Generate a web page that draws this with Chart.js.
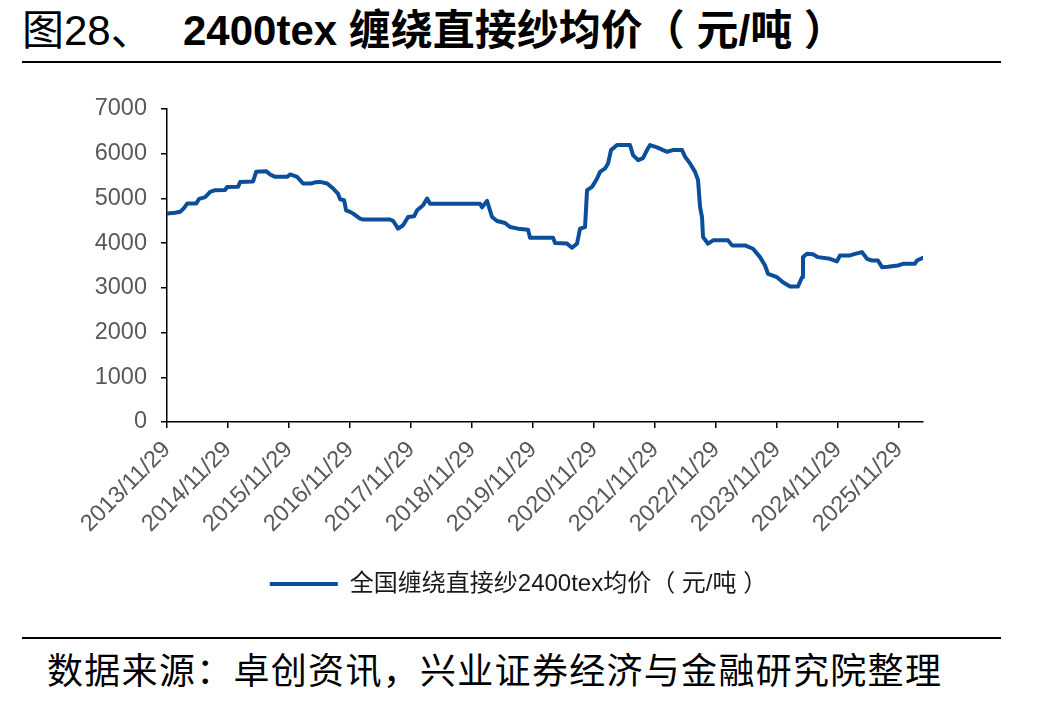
<!DOCTYPE html>
<html>
<head>
<meta charset="utf-8">
<script src="https://cdn.jsdelivr.net/npm/chart.js@4/dist/chart.umd.min.js"></script>
<style>
  html, body { margin: 0; padding: 0; background: #fff; }
  body { width: 1049px; height: 705px; position: relative; overflow: hidden;
         font-family: "Liberation Sans", "Noto Sans CJK SC", sans-serif; color: #000; }
  .title { position: absolute; top: 8px; font-size: 42px; line-height: 46px; white-space: nowrap; }
  .rule { position: absolute; left: 22px; width: 979px; height: 2px; background: #000; }
  #source { position: absolute; left: 47px; top: 652px; font-size: 36px; line-height: 40px;
            letter-spacing: 1.3px; white-space: nowrap; }
  #wrap { position: absolute; left: 0; top: 80px; width: 1049px; height: 526px; }
</style>
</head>
<body>
<div class="title" style="left:22px;">图28、</div>
<div class="title" style="left:183px;font-weight:bold;">2400tex 缠绕直接纱均价（ 元/吨 ）</div>
<div class="rule" style="top:61px;"></div>
<div id="wrap"><canvas id="c" width="1049" height="526"></canvas></div>
<div class="rule" style="top:637px;"></div>
<div id="source">数据来源：卓创资讯，兴业证券经济与金融研究院整理</div>
<script>
// ---- data (time in decimal years, price in 元/吨) ----
const seriesName = '全国缠绕直接纱2400tex均价（ 元/吨 ）';
const timeline = [2013.910, 2014.043, 2014.125, 2014.191, 2014.240, 2014.387, 2014.436, 2014.535, 2014.617, 2014.699,
  2014.862, 2014.895, 2015.075, 2015.108, 2015.321, 2015.370, 2015.534, 2015.600, 2015.682, 2015.878,
  2015.927, 2016.009, 2016.042, 2016.140, 2016.272, 2016.337, 2016.419, 2016.534, 2016.632, 2016.714,
  2016.747, 2016.812, 2016.845, 2016.911, 2016.960, 2017.074, 2017.124, 2017.566, 2017.615, 2017.697,
  2017.779, 2017.861, 2017.959, 2018.008, 2018.107, 2018.172, 2018.221, 2019.041, 2019.073, 2019.155,
  2019.237, 2019.319, 2019.450, 2019.532, 2019.663, 2019.827, 2019.860, 2020.237, 2020.270, 2020.466,
  2020.548, 2020.630, 2020.679, 2020.761, 2020.794, 2020.876, 2020.958, 2021.007, 2021.089, 2021.138,
  2021.187, 2021.285, 2021.498, 2021.548, 2021.630, 2021.711, 2021.777, 2021.826, 2021.941, 2022.105,
  2022.203, 2022.351, 2022.400, 2022.482, 2022.564, 2022.613, 2022.646, 2022.678, 2022.695, 2022.777,
  2022.859, 2023.105, 2023.170, 2023.383, 2023.514, 2023.629, 2023.711, 2023.760, 2023.907, 2024.005,
  2024.120, 2024.251, 2024.317, 2024.333, 2024.399, 2024.497, 2024.579, 2024.776, 2024.890, 2024.939,
  2025.103, 2025.185, 2025.300, 2025.382, 2025.464, 2025.562, 2025.628, 2025.726, 2025.890, 2025.972,
  2026.168, 2026.201, 2026.299];
const prices = [4660, 4680, 4700, 4790, 4885, 4885, 4990, 5030, 5146, 5184,
  5190, 5258, 5260, 5370, 5380, 5594, 5610, 5536, 5483, 5483,
  5536, 5500, 5483, 5334, 5334, 5360, 5370, 5334, 5222, 5100,
  4980, 4960, 4735, 4700, 4660, 4549, 4526, 4526, 4500, 4324,
  4400, 4584, 4600, 4735, 4847, 4997, 4880, 4880, 4800, 4944,
  4584, 4494, 4450, 4360, 4324, 4300, 4122, 4122, 4002, 3990,
  3898, 3990, 4324, 4360, 5184, 5258, 5446, 5594, 5670, 5783,
  6081, 6193, 6193, 5969, 5857, 5900, 6081, 6193, 6140, 6043,
  6081, 6081, 5931, 5783, 5594, 5408, 4809, 4584, 4136, 3988,
  4062, 4062, 3950, 3950, 3875, 3687, 3500, 3314, 3239, 3126,
  3030, 3030, 3239, 3687, 3762, 3750, 3687, 3650, 3590, 3725,
  3725, 3760, 3799, 3650, 3612, 3612, 3463, 3470, 3500, 3538,
  3540, 3612, 3672];
const tickLabels = ['2013/11/29', '2014/11/29', '2015/11/29', '2016/11/29', '2017/11/29', '2018/11/29',
  '2019/11/29', '2020/11/29', '2021/11/29', '2022/11/29', '2023/11/29', '2024/11/29', '2025/11/29'];
const yTicks = [0, 1000, 2000, 3000, 4000, 5000, 6000, 7000];

function dateToYear(s) {
  const [y, m, d] = s.split('/').map(Number);
  const t = Date.UTC(y, m - 1, d), a = Date.UTC(y, 0, 1), b = Date.UTC(y + 1, 0, 1);
  return y + (t - a) / (b - a);
}
const tickPos = tickLabels.map(dateToYear);
const points = timeline.map((x, i) => ({ x: x, y: prices[i] }));

const fam = '"Liberation Sans", "Noto Sans CJK SC", sans-serif';
const tickFont = { family: fam, size: 23.5 };
const blue = '#0B4F9B';

// shift the legend box horizontally so it is centred like the original
const legendShift = {
  id: 'legendShift',
  afterLayout(chart) {
    const lg = chart.legend;
    if (lg) { lg.left += 57; lg.right += 57; }
  }
};

new Chart(document.getElementById('c'), {
  type: 'line',
  data: {
    datasets: [{
      label: seriesName,
      data: points,
      borderColor: blue,
      backgroundColor: blue,
      borderWidth: 4,
      pointRadius: 0,
      tension: 0,
      borderJoinStyle: 'round',
      borderCapStyle: 'round'
    }]
  },
  plugins: [legendShift],
  options: {
    responsive: false,
    animation: false,
    devicePixelRatio: 1,
    layout: { padding: { top: 29, left: 0, right: 126, bottom: 0 } },
    plugins: {
      tooltip: { enabled: false },
      legend: {
        position: 'bottom',
        labels: {
          usePointStyle: true,
          pointStyle: 'line',
          pointStyleWidth: 68,
          padding: 20,
          color: '#1a1a1a',
          font: { family: fam, size: 24 }
        }
      }
    },
    scales: {
      x: {
        type: 'linear',
        min: tickPos[0],
        max: 2026.30,
        afterBuildTicks: (axis) => { axis.ticks = tickPos.map(v => ({ value: v })); },
        afterFit: (axis) => { axis.height = 130; },
        grid: { display: true, drawOnChartArea: false, drawTicks: true, tickLength: 6, color: '#000', lineWidth: 1.5 },
        border: { display: true, color: '#000', width: 1.5 },
        ticks: {
          autoSkip: false, minRotation: 45, maxRotation: 45, padding: 8,
          color: '#595959', font: tickFont,
          callback: (v, i) => tickLabels[i]
        }
      },
      y: {
        min: 0, max: 7000,
        afterBuildTicks: (axis) => { axis.ticks = yTicks.map(v => ({ value: v })); },
        afterFit: (axis) => { axis.width = 167; },
        grid: { display: true, drawOnChartArea: false, drawTicks: true, tickLength: 6, color: '#000', lineWidth: 1.5 },
        border: { display: true, color: '#000', width: 1.5 },
        ticks: { padding: 14, color: '#595959', font: tickFont, callback: (v) => String(v) }
      }
    }
  }
});
</script>
</body>
</html>
